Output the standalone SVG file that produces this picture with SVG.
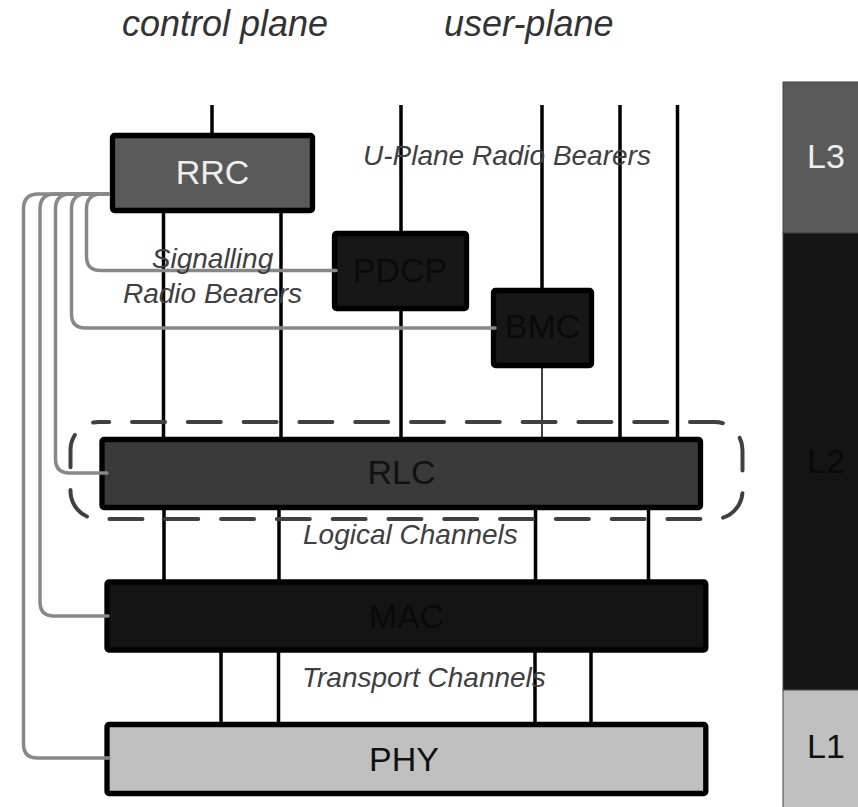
<svg xmlns="http://www.w3.org/2000/svg" width="858" height="807" viewBox="0 0 858 807">
<style>
.ln{stroke:#000;stroke-width:3.5;fill:none}
.thin{stroke:#000;stroke-width:1.5;fill:none}
.bus{stroke:#888;stroke-width:3.5;fill:none;stroke-linecap:round;stroke-linejoin:round}
.box{stroke:#000;stroke-width:5.3;stroke-linejoin:round}
.lbl{font-family:"Liberation Sans",Arial,sans-serif;font-size:34px;text-anchor:middle}
.it{font-family:"Liberation Sans",Arial,sans-serif;font-style:italic;font-size:28px;fill:#404040}
.hd{font-family:"Liberation Sans",Arial,sans-serif;font-style:italic;font-size:36px;fill:#333}
</style>
<rect width="858" height="807" fill="#fff"/>

<g id="layers">
  <rect x="783" y="82" width="90" height="151" fill="#5a5a5a" stroke="#444" stroke-width="1"/>
  <rect x="783" y="233" width="90" height="457" fill="#141414" stroke="#444" stroke-width="1"/>
  <rect x="783" y="690" width="90" height="130" fill="#c0c0c0" stroke="#444" stroke-width="1"/>
  <text class="lbl" x="826" y="168" fill="#eeeeee">L3</text>
  <text class="lbl" x="826" y="473" fill="#0a0a0a">L2</text>
  <text class="lbl" x="826" y="758" fill="#111">L1</text>
</g>

<g id="connectors">
  <path class="ln" d="M212 105V136"/>
  <path class="ln" d="M163.5 211V440M281 211V440"/>
  <path class="ln" d="M401 105V234M401 310V440"/>
  <path class="ln" d="M542 105V291"/>
  <path class="thin" d="M542 367V440"/>
  <path class="ln" d="M620 105V440M677.5 105V440"/>
  <path class="ln" d="M164 507V583M279 507V583M535.5 507V583M648.5 507V583"/>
  <path class="ln" d="M221 650V725M278.5 650V725M535 650V725M591 650V725"/>
</g>

<g id="RRC">
  <rect class="box" x="112.5" y="135.5" width="200" height="75" rx="2" fill="#5a5a5a"/>
  <text class="lbl" x="212.5" y="184" fill="#eeeeee">RRC</text>
</g>
<g id="PDCP">
  <rect class="box" x="334.5" y="233.5" width="132" height="75" rx="2" fill="#171717"/>
  <text class="lbl" x="400" y="282" fill="#0a0a0a">PDCP</text>
</g>
<g id="BMC">
  <rect class="box" x="493.5" y="290.5" width="98" height="75" rx="2" fill="#171717"/>
  <text class="lbl" x="542.5" y="338" fill="#0a0a0a">BMC</text>
</g>
<g id="RLC">
  <rect class="box" x="102" y="439.5" width="598.5" height="68" rx="2" fill="#3a3a3a"/>
  <text class="lbl" x="401.5" y="484" fill="#111">RLC</text>
</g>
<g id="MAC">
  <rect class="box" x="107" y="582" width="598.8" height="68" rx="2" fill="#141414"/>
  <text class="lbl" x="406.5" y="628" fill="#0a0a0a">MAC</text>
</g>
<g id="PHY">
  <rect class="box" x="107" y="724.5" width="598.8" height="69" rx="2" fill="#c0c0c0"/>
  <text class="lbl" x="404" y="771" fill="#111">PHY</text>
</g>

<g id="control-connectors">
  <path class="bus" d="M108 194H101.5Q86.5 194 86.5 209V256.5Q86.5 270.5 100.5 270.5H336"/>
  <path class="bus" d="M108 194H86.5Q71.5 194 71.5 209V314Q71.5 328 85.5 328H495"/>
  <path class="bus" d="M108 194H70.5Q55.5 194 55.5 209V459Q55.5 473 69.5 473H107"/>
  <path class="bus" d="M108 194H55Q40 194 40 209V602Q40 616 54 616H108"/>
  <path class="bus" d="M108 194H38.5Q23.5 194 23.5 209V744Q23.5 758 37.5 758H109"/>
</g>

<g id="l2-group">
  <rect x="70.5" y="422" width="672" height="97" rx="28" fill="none" stroke="#404040" stroke-width="4" stroke-dasharray="33 22.8" stroke-linecap="round" stroke-dashoffset="22.3"/>
</g>

<g id="labels">
  <text class="hd" x="122" y="36">control plane</text>
  <text class="hd" x="444" y="36">user-plane</text>
  <text class="it" x="363" y="165">U-Plane Radio Bearers</text>
  <text class="it" x="212.5" y="268" text-anchor="middle">Signalling</text>
  <text class="it" x="212.5" y="303" text-anchor="middle">Radio Bearers</text>
  <text class="it" x="303" y="544">Logical Channels</text>
  <text class="it" x="302" y="687">Transport Channels</text>
</g>
</svg>
